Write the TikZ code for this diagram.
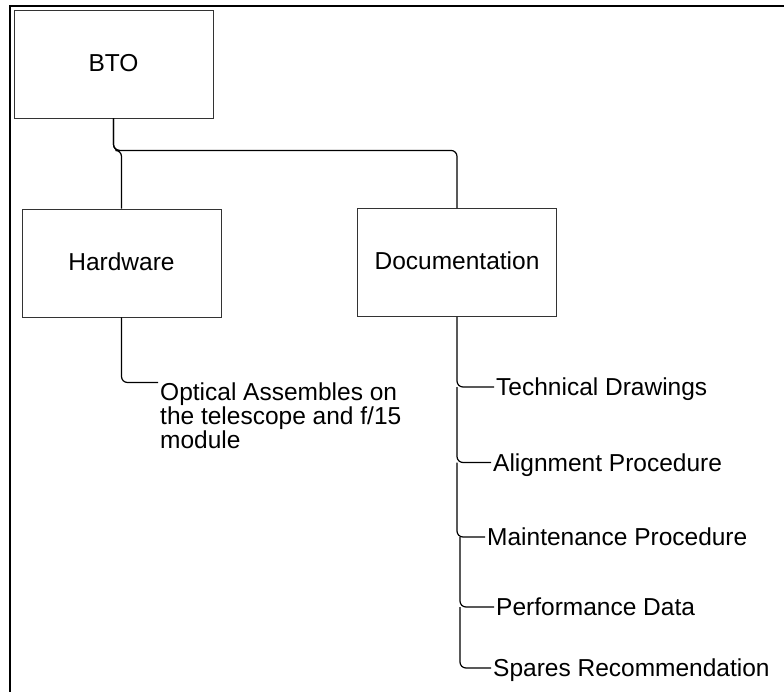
\documentclass[tikz,border=0pt]{standalone}
\usepackage{fontspec}
\setmainfont{Liberation Sans}
\usetikzlibrary{calc}
\tikzset{
	box/.style={draw=black!80, line width=0.9pt, minimum width=199pt, minimum height=108pt, inner sep=0pt, text height=17.6pt, text depth=3pt},
	item/.style={anchor=west, inner xsep=2pt, inner ysep=0pt, text height=17.6pt, text depth=0pt},
	note/.style={anchor=north west, align=left, inner xsep=2pt, inner ysep=0pt},
	link/.style={line width=1.2pt, rounded corners=6pt},
}

\begin{document}
\begin{tikzpicture}[x=1pt, y=-1pt, font=\fontsize{24.5}{22.7}\selectfont]
	%%%%% START %%%%%
	
	\useasboundingbox (0,0) rectangle (784,692);
	\draw[line width=2.4pt] (10,720) -- (10,6) -- (810,6);
	
	\node[box] (bto) at (113.5, 64) {BTO};
	\node[box] (hw) at (121.5, 263) {Hardware};
	\node[box] (doc) at (457, 262.5) {Documentation};
	
	\draw[link] (bto.south) -- ++(0, 32) -| (hw.north);
	\draw[link] (bto.south) -- ++(0, 32) -| (doc.north);
	
	\node[note] (opt) at (158, 382.5) {Optical Assembles on\\the telescope and f/15\\module};
	\draw[link] (hw.south) |- (opt.north west);
	
	\node[item] (tech) at (494, 387) {Technical Drawings};
	\node[item] (algn) at (491, 462.5) {Alignment Procedure};
	\node[item] (mnt) at (485, 537) {Maintenance Procedure};
	\node[item] (perf) at (494, 607) {Performance Data};
	\node[item] (spr) at (491, 668) {Spares Recommendation};
	
	\draw[link] (doc.south) |- (tech.west);
	\draw[link] (doc.south |- tech.west) |- (algn.west);
	\draw[link] (doc.south |- algn.west) |- (mnt.west);
	\draw[link] ([xshift=3pt]doc.south |- mnt.west) |- (perf.west);
	\draw[link] ([xshift=3pt]doc.south |- perf.west) |- (spr.west);
	
	%%%%% END %%%%%
\end{tikzpicture}
\end{document}
